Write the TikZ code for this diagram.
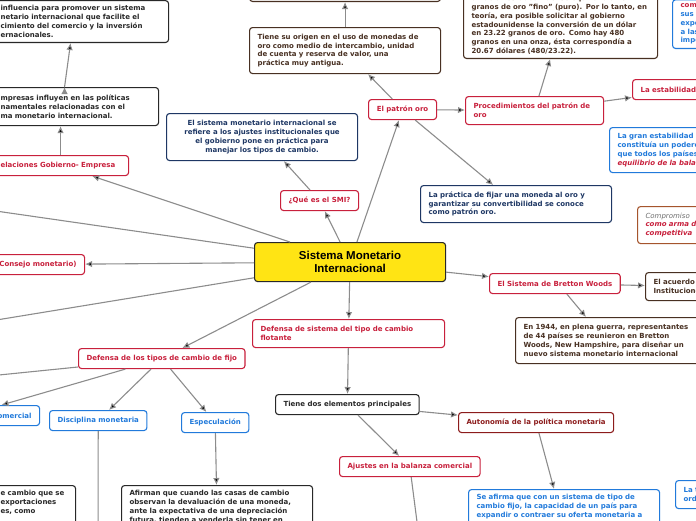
\documentclass[tikz,border=0pt]{standalone}
\usepackage{fontspec}
\setmainfont{DejaVu Sans}
\newfontfamily\titrefont{Liberation Sans}
\usetikzlibrary{arrows.meta}
\definecolor{smirouge}{RGB}{200, 32, 60}
\definecolor{smibleu}{RGB}{33, 122, 219}
\definecolor{smimarine}{RGB}{30, 55, 100}
\definecolor{smibrun}{RGB}{72, 48, 34}
\definecolor{smigrenat}{RGB}{140, 28, 28}
\definecolor{smisombre}{RGB}{40, 40, 40}
\definecolor{smijaune}{RGB}{255, 228, 20}
\definecolor{smibrique}{RGB}{165, 85, 45}
\definecolor{smigris}{RGB}{110, 110, 110}
\definecolor{smilien}{RGB}{140, 140, 140}
\tikzset{
    boite/.style={
        rounded corners=3pt,
        line width=1.1pt,
        fill=white,
        anchor=north west,
        inner xsep=8pt,
        inner ysep=4pt,
        font=\fontsize{7}{8.8}\selectfont\bfseries
    }
}

\begin{document}
\begin{tikzpicture}[x=1pt, y=-1pt]

    \tikzstyle{rouge} = [boite, draw=smirouge, text=smirouge, minimum height=20pt]
    \tikzstyle{bleu} = [boite, draw=smibleu, text=smibleu, minimum height=20pt]
    \tikzstyle{grenat} = [boite, draw=smigrenat, text=smigrenat, minimum height=20pt]
    \tikzstyle{marine} = [boite, draw=smimarine, text=smimarine]
    \tikzstyle{brun} = [boite, draw=smibrun, text=smibrun]
    \tikzstyle{sombre} = [boite, draw=smisombre, text=smisombre]
    \tikzstyle{centre} = [
        boite,
        draw=smisombre,
        fill=smijaune,
        minimum width=191pt,
        minimum height=39pt,
        align=center,
        font=\titrefont\fontsize{11.5}{13}\selectfont\bfseries
    ]
    \tikzstyle{lien} = [->, >={Latex[length=7pt,width=6.5pt]}, draw=smilien, line width=1.1pt]

    \useasboundingbox (0,0) rectangle (696,520);
    \clip (0,0) rectangle (696,520);

    % Le centre et le patron oro
    \node[centre] (smi) at (254,242) {Sistema Monetario\\Internacional};
    \node[rouge, minimum width=78pt] (quees) at (280,190) {¿Qué es el SMI?};
    \node[marine, text width=175pt, align=center, minimum height=47pt] (definicion) at (166,113) {El sistema monetario internacional se\\refiere a los ajustes institucionales que\\el gobierno pone en práctica para\\manejar los tipos de cambio.};
    \node[rouge, minimum width=68pt] (patron) at (368,99) {El patrón oro};
    \node[brun, text width=175pt, align=left, minimum height=46pt] (origen) at (249,27) {Tiene su origen en el uso de monedas de\\oro como medio de intercambio, unidad\\de cuenta y reserva de valor, una\\práctica muy antigua.};
    \node[brun, anchor=south west, minimum width=191pt, minimum height=30pt] (arriba) at (249,2) {};
    \node[rouge, text width=122pt, align=left, minimum height=28pt] (procedimientos) at (465,96) {Procedimientos del patrón de\\oro};
    \node[brun, anchor=south west, text width=178pt, align=left] (granos) at (463,59) {un dólar estadounidense equivalía a 23.22\\granos de oro "fino" (puro). Por lo tanto, en\\teoría, era posible solicitar al gobierno\\estadounidense la conversión de un dólar\\en 23.22 granos de oro. Como hay 480\\granos en una onza, ésta correspondía a\\20.67 dólares (480/23.22).};
    \node[rouge, text width=100pt, align=left] (estabilidad) at (632,79) {La estabilidad};
    \node[bleu, text width=110pt, align=left, minimum height=45pt] (gran) at (609,127) {La gran estabilidad e\\constituía un poderoso\\que todos los países\\\textit{\color{smirouge}equilibrio de la balanza}};
    \node[bleu, anchor=south west, text width=60pt, align=left] (exporta) at (672,49) {{\color{smirouge}com}\\sus\\expo\\a las\\impo};
    \node[boite, draw=smibrique, text=smirouge, text width=80pt, align=left, minimum height=37pt] (compromiso) at (637,206) {{\mdseries\itshape\color{smigris}Compromiso}\\\textit{como arma de}\\\textit{competitiva}};
    \node[marine, text width=175pt, align=left, minimum height=37pt] (practica) at (420,185) {La práctica de fijar una moneda al oro y\\garantizar su convertibilidad se conoce\\como patrón oro.};

    % Bretton Woods y tipo de cambio flotante
    \node[rouge, minimum width=130pt] (bretton) at (489,273) {El Sistema de Bretton Woods};
    \node[brun, text width=80pt, align=left, minimum height=28pt] (acuerdo) at (645,272) {El acuerdo\\Instituciones};
    \node[brun, text width=180pt, align=left, minimum height=46pt] (conferencia) at (515,317) {En 1944, en plena guerra, representantes\\de 44 países se reunieron en Bretton\\Woods, New Hampshire, para diseñar un\\nuevo sistema monetario internacional};
    \node[rouge, text width=176pt, align=left, minimum height=28pt] (flotante) at (252,319) {Defensa de sistema del tipo de cambio\\flotante};
    \node[sombre, minimum width=143pt, minimum height=20pt] (elementos) at (275,394) {Tiene dos elementos principales};
    \node[grenat, minimum width=153pt] (autonomia) at (458,412) {Autonomía de la política monetaria};
    \node[rouge, minimum width=139pt] (ajustes) at (339,456) {Ajustes en la balanza comercial};
    \node[bleu, text width=175pt, align=left, text depth=58pt, inner ysep=5pt] (afirma) at (468,489) {Se afirma que con un sistema de tipo de\\cambio fijo, la capacidad de un país para\\expandir o contraer su oferta monetaria a};
    \node[bleu, text width=60pt, align=left, minimum height=28pt] (orden) at (675,480) {La t\\ord};

    % Lado izquierdo
    \node[sombre, anchor=south west, text width=160pt, align=left, inner ysep=5pt] (influencia) at (-8,43) {influencia para promover un sistema\\netario internacional que facilite el\\cimiento del comercio y la inversión\\ernacionales.};
    \node[sombre, text width=150pt, align=left, minimum height=38pt] (empresas) at (-8,87) {mpresas influyen en las políticas\\namentales relacionadas con el\\ma monetario internacional.};
    \node[rouge, text width=120pt, align=left] (relaciones) at (-8,155) {elaciones Gobierno- Empresa};
    \node[rouge, text width=98pt, align=right] (consejo) at (-30,254) {Consejo monetario)};
    \node[rouge, minimum width=165pt] (fijo) at (78,348) {Defensa de los tipos de cambio de fijo};
    \node[bleu, text width=133pt, align=right] (balanza) at (-110,405) {omercial};
    \node[bleu, minimum width=97pt] (disciplina) at (49,410) {Disciplina monetaria};
    \node[bleu, minimum width=67pt] (especulacion) at (181,412) {Especulación};
    \node[sombre, text width=175pt, align=left, text depth=40pt, inner ysep=5pt] (afirman) at (121,485) {Afirman que cuando las casas de cambio\\observan la devaluación de una moneda,\\ante la expectativa de una depreciación\\futura, tienden a venderla sin tener en};
    \node[sombre, text width=67pt, align=left, text depth=40pt, inner ysep=5pt] (exportaciones) at (-8,485) {e cambio que se\\exportaciones\\es, como};

    \coordinate (gauchehaut) at (-150,190);
    \coordinate (gauchebas) at (-150,344);
    \coordinate (fijogauche) at (-100,385);
    \coordinate (ajustesbas) at (420,545);
    \coordinate (disciplinabas) at (98,560);

    % Les liens
    \path[lien]
        (smi) edge (quees)
              edge (patron)
              edge (relaciones)
              edge (consejo)
              edge (gauchehaut)
              edge (gauchebas)
              edge (fijo)
              edge (flotante)
              edge (bretton)
        (quees) edge (definicion)
        (patron) edge (origen)
                 edge (procedimientos)
                 edge (practica)
        (origen) edge (arriba)
        (procedimientos) edge (granos)
                         edge (estabilidad)
        (bretton) edge (acuerdo)
        ([xshift=12pt]bretton.south) edge ([xshift=71pt]conferencia.north west)
        (flotante) edge (elementos)
        (elementos) edge (autonomia)
                    edge (ajustes)
        (ajustes) edge (ajustesbas)
        (autonomia) edge (afirma)
        (relaciones.north) edge ([xshift=-15pt]empresas.south)
        ([xshift=-11pt]empresas.north) edge ([xshift=-10pt]influencia.south)
        (fijo) edge (fijogauche)
               edge (balanza)
               edge (disciplina)
               edge (especulacion)
        (disciplina) edge (disciplinabas)
        (especulacion) edge (afirman);

\end{tikzpicture}
\end{document}
